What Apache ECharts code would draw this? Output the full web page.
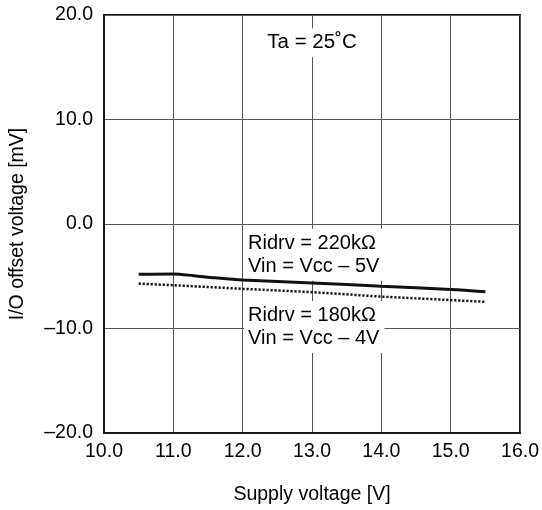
<!DOCTYPE html>
<html>
<head>
<meta charset="utf-8">
<script src="https://cdn.jsdelivr.net/npm/echarts@6/dist/echarts.min.js"></script>
<style>
  html, body { margin: 0; padding: 0; background: #fff; }
  #chart { width: 542px; height: 510px; }
</style>
</head>
<body>
<div id="chart"></div>
<script>
// Supply voltage sweep [V]
const supplyV220 = [10.5, 11.0, 11.3, 11.6, 12.0, 13.0, 14.0, 15.0, 15.5];
// I/O offset voltage [mV], Ridrv = 220kΩ, Vin = Vcc – 5V
const offset220 = [-4.82, -4.78, -4.95, -5.15, -5.36, -5.64, -5.96, -6.27, -6.48];

const supplyV180 = [10.5, 11.0, 12.0, 13.0, 14.0, 15.0, 15.5];
// I/O offset voltage [mV], Ridrv = 180kΩ, Vin = Vcc – 4V
const offset180 = [-5.7, -5.86, -6.2, -6.52, -6.95, -7.28, -7.45];

// Axis ticks
const xTicks = [10, 11, 12, 13, 14, 15, 16];
const yTicks = [-20, -10, 0, 10, 20];

// Annotations: [x, y, text, align]
const notes = [
  [13.0, 17.35, 'Ta = 25˚C', 'center'],
  [12.02, -2.95, 'Ridrv = 220kΩ\nVin = Vcc – 5V', 'left'],
  [12.02, -9.85, 'Ridrv = 180kΩ\nVin = Vcc – 4V', 'left']
];

const fontFamily = '"Liberation Sans", Arial, Helvetica, sans-serif';
const ink = '#000';
const frame = '#1a1a1a';

const fmt = v => v.toFixed(1).replace('-', '–');

const chart = echarts.init(document.getElementById('chart'), null, { renderer: 'canvas' });

chart.setOption({
  backgroundColor: '#fff',
  animation: false,
  grid: {
    left: 102, right: 20, top: 15, bottom: 76,
    show: true, borderColor: frame, borderWidth: 2, backgroundColor: 'transparent'
  },
  xAxis: {
    type: 'value',
    min: xTicks[0], max: xTicks[xTicks.length - 1], interval: 1,
    name: 'Supply voltage [V]',
    nameLocation: 'middle', nameGap: 52,
    nameTextStyle: { fontFamily, fontSize: 19.5, color: ink },
    axisLine: { show: true, onZero: false, lineStyle: { color: frame, width: 2 } },
    axisTick: { show: false },
    axisLabel: { fontFamily, fontSize: 19.5, color: ink, margin: 9, formatter: fmt },
    splitLine: { show: true, lineStyle: { color: '#555', width: 1 } }
  },
  yAxis: {
    type: 'value',
    min: yTicks[0], max: yTicks[yTicks.length - 1], interval: 10,
    name: 'I/O offset voltage [mV]',
    nameLocation: 'middle', nameGap: 76,
    nameTextStyle: { fontFamily, fontSize: 19.5, color: ink },
    axisLine: { show: true, onZero: false, lineStyle: { color: frame, width: 2 } },
    axisTick: { show: false },
    axisLabel: { fontFamily, fontSize: 19.5, color: ink, margin: 11, formatter: fmt },
    splitLine: { show: true, lineStyle: { color: '#555', width: 1 } }
  },
  series: [
    {
      type: 'scatter',
      name: 'notes',
      symbolSize: 0,
      silent: true,
      z: 3,
      itemStyle: { opacity: 1 },
      data: notes.map(n => ({
        value: [n[0], n[1]],
        label: {
          show: true,
          formatter: n[2],
          position: 'inside',
          align: n[3],
          verticalAlign: 'middle',
          fontFamily,
          fontSize: n[3] === 'center' ? 20.5 : 20,
          lineHeight: 23,
          color: ink,
          opacity: 1,
          textBorderWidth: 0,
          backgroundColor: '#fff',
          padding: n[3] === 'center' ? [3, 4] : [3, 5, 3, 4]
        }
      }))
    },
    {
      type: 'line',
      name: 'Ridrv = 220kΩ',
      data: supplyV220.map((x, i) => [x, offset220[i]]),
      smooth: 0.3,
      showSymbol: false,
      z: 4,
      lineStyle: { color: '#111', width: 3 }
    },
    {
      type: 'line',
      name: 'Ridrv = 180kΩ',
      data: supplyV180.map((x, i) => [x, offset180[i]]),
      showSymbol: false,
      z: 4,
      lineStyle: { color: '#111', width: 2.5, type: [2.2, 1.8] }
    }
  ]
});
</script>
</body>
</html>
